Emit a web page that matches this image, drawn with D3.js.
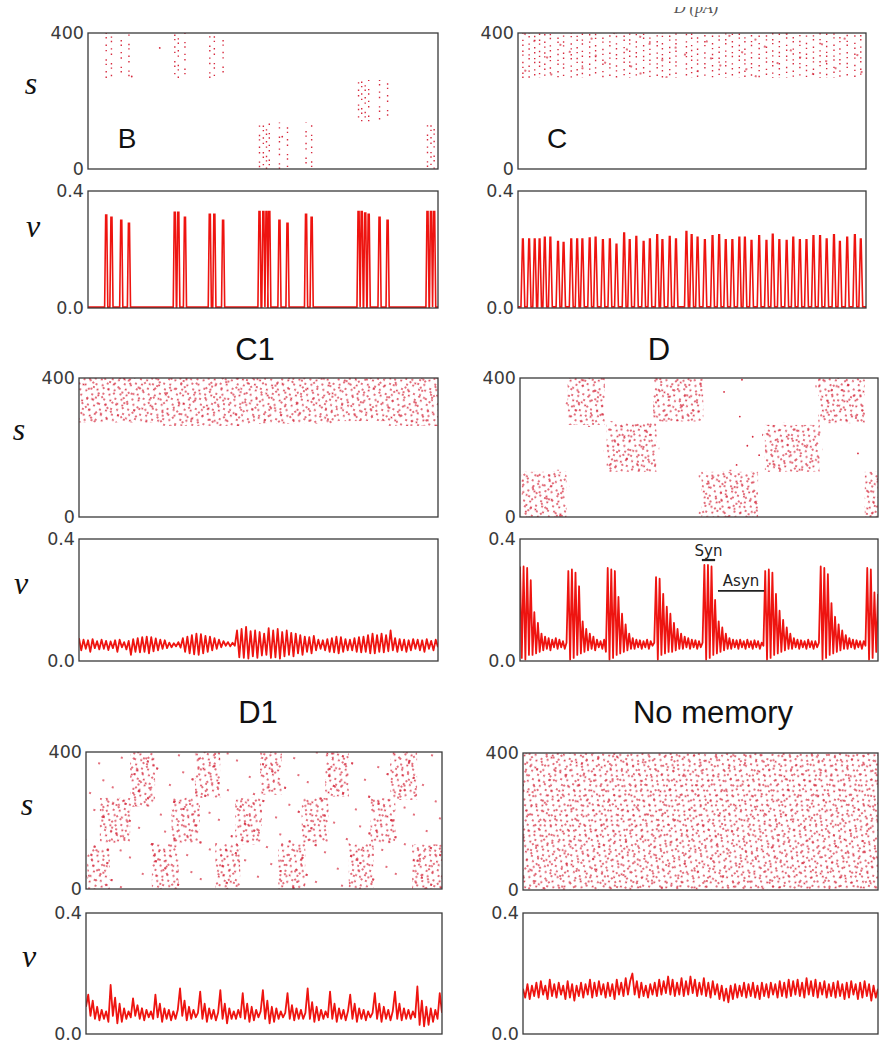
<!DOCTYPE html>
<html>
<head>
<meta charset="utf-8">
<script src="https://cdn.jsdelivr.net/npm/d3@7"></script>
<style>
body { margin: 0; background: #fff; }
</style>
</head>
<body>
<script>
// ---- data (time in % of window, neuron index 0..400, rate 0..0.4) ----

// B: synchronous bursts, [time, rate peak]
let bPeaks = [[5.2, 0.318], [6.7, 0.31], [9.5, 0.30], [11.7, 0.29],
    [24.8, 0.327], [25.8, 0.327], [27.7, 0.31],
    [34.8, 0.32], [36.1, 0.32], [38.6, 0.30],
    [49.0, 0.33], [50.1, 0.33], [51.0, 0.33], [51.8, 0.33], [54.7, 0.30], [57.0, 0.29], [62.3, 0.32], [63.9, 0.31],
    [77.3, 0.33], [78.2, 0.33], [79.2, 0.325], [80.2, 0.32], [83.3, 0.31], [85.6, 0.30],
    [97.0, 0.33], [98.0, 0.33], [98.9, 0.33]];
// which neuron group fired at each B burst: [first time index, last, n0, n1]
let bGroups = [[0, 3, 268, 400], [4, 6, 268, 400], [7, 9, 268, 400],
    [10, 17, 0, 137], [18, 23, 140, 262], [24, 26, 0, 130]];
let bStrays = [[20.5, 356], [12.5, 272], [55.5, 95]];

// C: periodic population spikes
let cTimes = [1.4, 3.2, 4.8, 6.2, 7.7, 9.3, 11.5, 13.1, 15.3, 17.0, 18.5, 20.6, 22.3, 24.4, 26.4, 28.3,
    30.5, 32.1, 34.0, 36.1, 37.9, 40.0, 41.5, 43.6, 45.4, 48.4, 49.9, 51.6, 53.7, 55.9, 57.8, 59.7,
    61.6, 63.6, 65.2, 67.1, 69.3, 71.4, 73.2, 75.1, 77.2, 79.1, 81.0, 82.9, 84.9, 86.8, 88.7, 90.8,
    92.5, 94.6, 96.8, 98.5];
let cHeights = [0.236, 0.236, 0.236, 0.236, 0.242, 0.242, 0.227, 0.224, 0.236, 0.236, 0.236, 0.239, 0.242, 0.233, 0.236, 0.218,
    0.256, 0.233, 0.244, 0.227, 0.236, 0.25, 0.233, 0.244, 0.236, 0.261, 0.25, 0.242, 0.233, 0.247, 0.25, 0.233,
    0.233, 0.242, 0.242, 0.231, 0.247, 0.231, 0.252, 0.233, 0.231, 0.242, 0.233, 0.233, 0.247, 0.247, 0.236, 0.25,
    0.227, 0.242, 0.25, 0.236];
let cRange = [268, 400];

// C1
let c1Band = [[0, 22, 272, 400], [22, 45, 262, 400], [45, 72, 268, 400], [72, 86, 276, 400], [86, 100, 262, 400]];
let c1Rate = [0.075, 0.035, 0.07, 0.04, 0.068, 0.03, 0.072, 0.042, 0.065, 0.038,
    0.07, 0.04, 0.066, 0.036, 0.064, 0.042, 0.068, 0.03, 0.07, 0.045,
    0.062, 0.038, 0.066, 0.02, 0.072, 0.03, 0.075, 0.028, 0.078, 0.03,
    0.08, 0.025, 0.078, 0.032, 0.074, 0.035, 0.07, 0.04, 0.068, 0.042,
    0.06, 0.045, 0.058, 0.048, 0.062, 0.044, 0.075, 0.03, 0.08, 0.025,
    0.085, 0.022, 0.09, 0.02, 0.088, 0.025, 0.082, 0.03, 0.08, 0.035,
    0.075, 0.04, 0.07, 0.045, 0.065, 0.05, 0.062, 0.048, 0.06, 0.05,
    0.1, 0.012, 0.105, 0.01, 0.112, 0.008, 0.098, 0.015, 0.1, 0.01,
    0.095, 0.018, 0.09, 0.02, 0.108, 0.01, 0.1, 0.012, 0.105, 0.008,
    0.095, 0.015, 0.1, 0.02, 0.092, 0.015, 0.09, 0.025, 0.085, 0.02,
    0.08, 0.03, 0.078, 0.025, 0.082, 0.035, 0.07, 0.04, 0.068, 0.035,
    0.072, 0.03, 0.075, 0.028, 0.08, 0.025, 0.078, 0.03, 0.072, 0.035,
    0.07, 0.035, 0.075, 0.03, 0.078, 0.028, 0.08, 0.03, 0.085, 0.025,
    0.09, 0.025, 0.085, 0.03, 0.09, 0.028, 0.085, 0.032, 0.1, 0.035,
    0.075, 0.03, 0.072, 0.035, 0.07, 0.03, 0.068, 0.035, 0.072, 0.04,
    0.07, 0.035, 0.068, 0.03, 0.072, 0.04, 0.066, 0.035, 0.07, 0.045];

// D
let dBlocks = [[0.5, 13, 0, 130], [13.3, 23.7, 265, 400], [24.2, 38.1, 130, 270], [37.2, 51.2, 275, 400],
    [50.7, 66.5, 0, 130], [68.4, 83.7, 130, 265], [83.3, 96.3, 270, 400], [96.3, 100, 0, 130]];
let dStrays = [[62, 395], [61.4, 289], [65, 231], [63.5, 205], [66.8, 178], [94.4, 183], [57, 360], [60.5, 150]];
let dRate = [0.31, 0.01, 0.31, 0.005, 0.305, 0.02, 0.265, 0.02, 0.16, 0.025,
    0.125, 0.03, 0.09, 0.035, 0.08, 0.04, 0.075, 0.035, 0.07, 0.045,
    0.075, 0.04, 0.07, 0.045, 0.065, 0.04, 0.06, 0.295, 0.005, 0.3,
    0.01, 0.29, 0.02, 0.245, 0.025, 0.13, 0.03, 0.105, 0.035, 0.09,
    0.04, 0.08, 0.035, 0.07, 0.045, 0.065, 0.04, 0.07, 0.03, 0.305,
    0.005, 0.3, 0.01, 0.295, 0.02, 0.21, 0.025, 0.155, 0.03, 0.12,
    0.035, 0.09, 0.04, 0.075, 0.04, 0.07, 0.045, 0.068, 0.04, 0.065,
    0.045, 0.07, 0.04, 0.065, 0.05, 0.06, 0.275, 0.005, 0.27, 0.02,
    0.22, 0.025, 0.178, 0.03, 0.155, 0.03, 0.125, 0.035, 0.105, 0.04,
    0.09, 0.04, 0.08, 0.045, 0.075, 0.04, 0.07, 0.045, 0.068, 0.04,
    0.065, 0.045, 0.06, 0.315, 0.005, 0.315, 0.01, 0.31, 0.02, 0.2,
    0.025, 0.13, 0.03, 0.11, 0.035, 0.09, 0.04, 0.075, 0.04, 0.07,
    0.045, 0.068, 0.04, 0.07, 0.045, 0.065, 0.04, 0.07, 0.045, 0.065,
    0.04, 0.068, 0.045, 0.065, 0.04, 0.06, 0.05, 0.295, 0.005, 0.3,
    0.01, 0.29, 0.02, 0.22, 0.025, 0.165, 0.03, 0.135, 0.035, 0.11,
    0.04, 0.09, 0.04, 0.075, 0.045, 0.07, 0.04, 0.068, 0.045, 0.065,
    0.04, 0.07, 0.045, 0.065, 0.04, 0.065, 0.045, 0.06, 0.31, 0.005,
    0.305, 0.01, 0.285, 0.02, 0.19, 0.025, 0.145, 0.03, 0.12, 0.035,
    0.1, 0.04, 0.085, 0.04, 0.075, 0.045, 0.07, 0.04, 0.068, 0.045,
    0.065, 0.04, 0.065, 0.05, 0.305, 0.005, 0.3, 0.01, 0.225, 0.03,
    0.22];
let dNotes = [{label: 'Syn', t0: 50.8, t1: 54.5, v: 0.331, tv: 0.345},
    {label: 'Asyn', t0: 55.3, t1: 68.2, v: 0.23, tv: 0.247}];

// D1
let d1Blobs = [[0.4, 6.7, 0, 120], [3.9, 12.4, 134, 266], [12.4, 19.4, 240, 400],
    [18.5, 26, 0, 134], [24, 32, 134, 266], [30.6, 37.7, 266, 400],
    [36.3, 43.3, 0, 134], [41.9, 49.4, 130, 266], [48.9, 55, 275, 400],
    [54, 61.6, 0, 134], [60.6, 68.1, 134, 266], [67.2, 73.8, 270, 400],
    [73.8, 80.8, 0, 134], [79.9, 86.9, 134, 266], [85.5, 93, 260, 400],
    [91.6, 100, 0, 130]];
let d1Rate = [0.09, 0.13, 0.06, 0.11, 0.05, 0.09, 0.045, 0.08, 0.05, 0.075,
    0.04, 0.162, 0.06, 0.12, 0.035, 0.1, 0.04, 0.085, 0.05, 0.075,
    0.055, 0.118, 0.06, 0.095, 0.05, 0.085, 0.045, 0.08, 0.055, 0.075,
    0.05, 0.13, 0.055, 0.1, 0.04, 0.085, 0.05, 0.08, 0.045, 0.075,
    0.05, 0.08, 0.151, 0.06, 0.11, 0.045, 0.09, 0.05, 0.08, 0.055,
    0.07, 0.14, 0.05, 0.1, 0.04, 0.085, 0.05, 0.08, 0.045, 0.07,
    0.145, 0.05, 0.1, 0.035, 0.085, 0.05, 0.075, 0.05, 0.08, 0.055,
    0.135, 0.05, 0.1, 0.04, 0.09, 0.045, 0.08, 0.055, 0.075, 0.145,
    0.05, 0.11, 0.035, 0.09, 0.04, 0.085, 0.05, 0.075, 0.055, 0.07,
    0.135, 0.05, 0.095, 0.045, 0.085, 0.05, 0.08, 0.05, 0.07, 0.151,
    0.05, 0.105, 0.04, 0.09, 0.045, 0.08, 0.05, 0.075, 0.055, 0.14,
    0.05, 0.1, 0.04, 0.085, 0.05, 0.08, 0.045, 0.075, 0.13, 0.05,
    0.1, 0.04, 0.085, 0.05, 0.08, 0.045, 0.075, 0.055, 0.07, 0.135,
    0.05, 0.1, 0.04, 0.09, 0.05, 0.08, 0.045, 0.075, 0.14, 0.05,
    0.1, 0.045, 0.085, 0.05, 0.08, 0.05, 0.075, 0.055, 0.157, 0.03,
    0.11, 0.025, 0.09, 0.03, 0.085, 0.04, 0.08, 0.05, 0.135, 0.07];

// No memory
let noMemBlocks = [[0, 100, 0, 400]];
let noMemRate = [0.15, 0.12, 0.165, 0.115, 0.16, 0.125, 0.17, 0.12, 0.175, 0.13,
    0.16, 0.115, 0.18, 0.125, 0.165, 0.12, 0.17, 0.13, 0.16, 0.115,
    0.175, 0.12, 0.165, 0.11, 0.16, 0.125, 0.17, 0.12, 0.165, 0.13,
    0.18, 0.12, 0.17, 0.125, 0.175, 0.13, 0.165, 0.12, 0.17, 0.125,
    0.165, 0.115, 0.18, 0.13, 0.17, 0.125, 0.185, 0.13, 0.175, 0.2,
    0.13, 0.175, 0.12, 0.17, 0.125, 0.16, 0.12, 0.165, 0.13, 0.17,
    0.125, 0.18, 0.13, 0.175, 0.135, 0.19, 0.13, 0.18, 0.125, 0.17,
    0.13, 0.185, 0.125, 0.175, 0.13, 0.19, 0.135, 0.18, 0.125, 0.17,
    0.13, 0.185, 0.125, 0.17, 0.12, 0.175, 0.13, 0.165, 0.115, 0.16,
    0.11, 0.15, 0.105, 0.16, 0.115, 0.165, 0.12, 0.16, 0.125, 0.17,
    0.12, 0.165, 0.125, 0.17, 0.12, 0.16, 0.115, 0.17, 0.125, 0.165,
    0.12, 0.17, 0.13, 0.165, 0.12, 0.175, 0.125, 0.17, 0.12, 0.18,
    0.125, 0.175, 0.13, 0.18, 0.125, 0.17, 0.12, 0.185, 0.13, 0.175,
    0.125, 0.18, 0.12, 0.17, 0.13, 0.175, 0.12, 0.165, 0.125, 0.17,
    0.12, 0.175, 0.125, 0.165, 0.115, 0.17, 0.12, 0.175, 0.13, 0.165,
    0.115, 0.17, 0.12, 0.175, 0.125, 0.165, 0.11, 0.16, 0.12, 0.15];

let rasterTicks = [0, 400];
let rateTicks = [0, 0.4];

// ---- drawing ----
const W = 880, H = 1047;
const RED = '#ee1410', DOT = '#d62a3e';

let svg = d3.select('body').append('svg').attr('width', W).attr('height', H);
let defs = svg.append('defs');

// dot textures used to fill the active regions of the rasters
// (rotated so that the three layers do not line up into a visible lattice)
let tiles = {
    scatA: {w: 13, h: 11, rot: 23, pts: [[2, 3], [8, 1.5], [5, 8], [11, 6.5]]},
    scatB: {w: 19, h: 17, rot: -31, pts: [[3, 12], [9, 5], [15, 14], [16, 2], [6.5, 15.5]]},
    scatC: {w: 29, h: 23, rot: 11, pts: [[7, 9], [21, 17], [25, 4]]},
    sparse: {w: 37, h: 31, rot: 17, pts: [[5, 7], [22, 19], [31, 3]]}
};
Object.keys(tiles).forEach(k => {
    let tl = tiles[k];
    let p = defs.append('pattern').attr('id', k)
        .attr('patternUnits', 'userSpaceOnUse')
        .attr('patternTransform', 'rotate(' + tl.rot + ')')
        .attr('width', tl.w).attr('height', tl.h);
    p.selectAll('circle').data(tl.pts).enter().append('circle')
        .attr('cx', d => d[0]).attr('cy', d => d[1]).attr('r', 0.9)
        .attr('fill', DOT);
});

let clipId = 0;
function makePanel(box, domainY, ticks, fmt) {
    let x = d3.scaleLinear().domain([0, 100]).range([box[0], box[1]]);
    let y = d3.scaleLinear().domain(domainY).range([box[3], box[2]]);
    let id = 'clip' + (clipId++);
    defs.append('clipPath').attr('id', id).append('rect')
        .attr('x', box[0]).attr('y', box[2])
        .attr('width', box[1] - box[0]).attr('height', box[3] - box[2]);
    let g = svg.append('g');
    let inner = g.append('g').attr('clip-path', 'url(#' + id + ')');

    let ax = g.append('g').attr('transform', 'translate(' + (box[0] - 2) + ',0)')
        .call(d3.axisLeft(y).tickValues(ticks).tickSize(0).tickPadding(2).tickFormat(fmt));
    ax.select('.domain').remove();
    ax.selectAll('text').attr('font-family', '"DejaVu Sans", sans-serif')
        .attr('font-size', 17.5).attr('fill', '#3a3a3a');

    g.append('rect').attr('x', box[0]).attr('y', box[2])
        .attr('width', box[1] - box[0]).attr('height', box[3] - box[2])
        .attr('fill', 'none').attr('stroke', '#3a3a3a').attr('stroke-width', 1.3);
    return {x, y, inner, g};
}

function raster(box) {
    return makePanel(box, [0, 400], rasterTicks, d3.format('d'));
}
function rate(box) {
    return makePanel(box, [0, 0.4], rateTicks, d3.format('.1f'));
}

function fillRegions(p, regions, layers, padT, padN) {
    regions.forEach(r => {
        layers.forEach(l => {
            p.inner.append('rect')
                .attr('x', p.x(r[0] - padT)).attr('y', p.y(r[3] + padN))
                .attr('width', p.x(r[1] + padT) - p.x(r[0] - padT))
                .attr('height', p.y(r[2] - padN) - p.y(r[3] + padN))
                .attr('fill', 'url(#' + l + ')');
        });
    });
}
const SCAT = ['scatA', 'scatB', 'scatC'];

function strays(p, pts) {
    p.inner.selectAll('.stray').data(pts).enter().append('circle')
        .attr('cx', d => p.x(d[0])).attr('cy', d => p.y(d[1]))
        .attr('r', 0.9).attr('fill', DOT);
}

function columns(p, evts, dash) {
    p.inner.selectAll('.col').data(evts).enter().append('line')
        .attr('x1', d => p.x(d[0])).attr('x2', d => p.x(d[0]))
        .attr('y1', d => p.y(d[1])).attr('y2', d => p.y(d[2]))
        .attr('stroke', DOT).attr('stroke-width', 1.4)
        .attr('stroke-dasharray', dash)
        .attr('stroke-dashoffset', (d, i) => (i * 3.7) % 13);
}

function spikes(p, peaks, halfBase, halfTop, base) {
    let pts = [[0, base]];
    peaks.forEach(d => {
        pts.push([d[0] - halfBase, base], [d[0] - halfTop, d[1]], [d[0] + halfTop, d[1]], [d[0] + halfBase, base]);
    });
    pts.push([100, base]);
    let line = d3.line().x(d => p.x(d[0])).y(d => p.y(d[1]));
    p.inner.append('path').attr('d', line(pts))
        .attr('fill', 'none').attr('stroke', RED).attr('stroke-width', 1.6);
}

function trace(p, vals) {
    let line = d3.line()
        .x((d, i) => p.x(i * 100 / (vals.length - 1)))
        .y(d => p.y(d));
    p.inner.append('path').attr('d', line(vals))
        .attr('fill', 'none').attr('stroke', RED).attr('stroke-width', 1.8)
        .attr('stroke-linejoin', 'round');
}

function label(txt, x, y, size, opts) {
    let t = svg.append('text').attr('x', x).attr('y', y).text(txt)
        .attr('text-anchor', 'middle').attr('font-size', size)
        .attr('font-family', opts && opts.serif ? '"Liberation Serif", serif' : '"Liberation Sans", Arial, sans-serif')
        .attr('fill', '#111');
    if (opts && opts.italic) t.attr('font-style', 'italic');
    return t;
}

// ---- B ----
let pB = raster([88, 438, 33, 169]);
let bEvents = [];
bGroups.forEach(gr => {
    for (let i = gr[0]; i <= gr[1]; i++) bEvents.push([bPeaks[i][0], gr[2], gr[3]]);
});
columns(pB, bEvents, '1.4,4,1.4,6,1.4,3,1.4,8');
strays(pB, bStrays);
let rB = rate([88, 438, 191, 308]);
spikes(rB, bPeaks, 0.45, 0.15, 0.003);

// ---- C ----
let pC = raster([518, 866, 33, 169]);
columns(pC, cTimes.map(t => [t, cRange[0], cRange[1]]), '1.4,2.5,1.4,4.5,1.4,3.5,1.4,6');
fillRegions(pC, [[0, 100, cRange[0], cRange[1]]], ['sparse'], 0, 0);
let rC = rate([518, 866, 191, 308]);
spikes(rC, cTimes.map((t, i) => [t, cHeights[i]]), 0.55, 0.1, 0.004);

// ---- C1 ----
let pC1 = raster([79, 438, 378, 517]);
fillRegions(pC1, c1Band, SCAT, 0, 0);
let rC1 = rate([79, 438, 539, 661]);
trace(rC1, c1Rate);

// ---- D ----
let pD = raster([520, 878, 378, 517]);
fillRegions(pD, dBlocks, ['sparse'], 0.8, 6);
fillRegions(pD, dBlocks, SCAT, 0, 0);
strays(pD, dStrays);
let rD = rate([520, 878, 539, 661]);
trace(rD, dRate);
dNotes.forEach(n => {
    rD.g.append('line').attr('x1', rD.x(n.t0)).attr('x2', rD.x(n.t1))
        .attr('y1', rD.y(n.v)).attr('y2', rD.y(n.v))
        .attr('stroke', '#222').attr('stroke-width', n.label === 'Syn' ? 2.2 : 1.6);
    rD.g.append('text').attr('x', rD.x((n.t0 + n.t1) / 2)).attr('y', rD.y(n.tv))
        .attr('text-anchor', 'middle').attr('font-size', 15)
        .attr('font-family', '"DejaVu Sans", sans-serif').attr('fill', '#222')
        .text(n.label);
});

// ---- D1 ----
let pD1 = raster([86, 442, 752, 889]);
fillRegions(pD1, [[0, 100, 0, 400]], ['sparse'], 0, 0);
fillRegions(pD1, d1Blobs, ['sparse'], 1.2, 10);
fillRegions(pD1, d1Blobs, SCAT, 0, 0);
let rD1 = rate([86, 442, 913, 1034]);
trace(rD1, d1Rate);

// ---- No memory ----
let pN = raster([523, 878, 753, 890]);
fillRegions(pN, noMemBlocks, SCAT, 0, 0);
let rN = rate([523, 878, 913, 1034]);
trace(rN, noMemRate);

// ---- labels ----
label('B', 127, 148, 28);
label('C', 557, 148, 28);
label('C1', 255, 360, 31);
label('D', 659, 360, 31);
label('D1', 258, 723, 31);
label('No memory', 713, 723, 31);

[[31, 94, 237], [19, 440, 594], [27, 815, 967]].forEach(r => {
    label('s', r[0], r[1], 32, {serif: true, italic: true});
    label('\u03bd', r[0] + 2, r[2], 32, {serif: true, italic: true});
});

// cropped axis title at the very top
defs.append('clipPath').attr('id', 'topcut').append('rect')
    .attr('x', 600).attr('y', 7).attr('width', 200).attr('height', 20);
label('D (pA)', 696, 13, 16, {serif: true, italic: true})
    .attr('fill', '#555').attr('clip-path', 'url(#topcut)');
</script>
</body>
</html>
